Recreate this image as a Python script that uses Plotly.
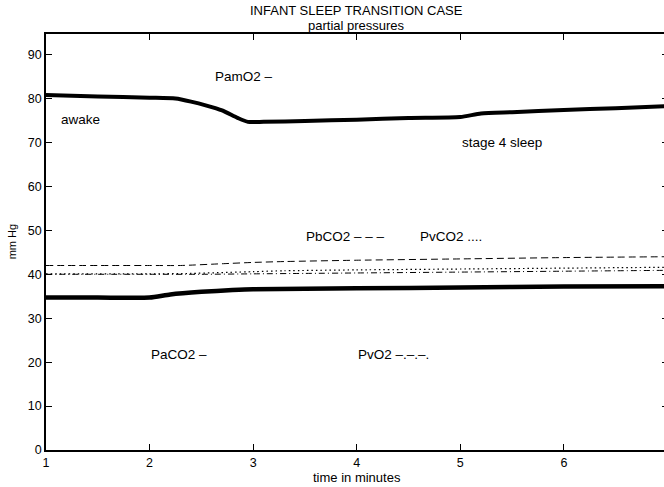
import plotly.graph_objects as go

# ---- data: partial pressures (mm Hg) against time (minutes) ----
pamo2_t = [1.0, 1.5, 2.0, 2.25, 2.4, 2.55, 2.7, 2.85, 2.95, 3.1, 3.5, 4.0, 4.5, 5.0, 5.2, 5.5, 6.0, 6.5, 7.0]
pamo2_v = [80.8, 80.5, 80.2, 80.0, 79.3, 78.4, 77.3, 75.6, 74.7, 74.7, 74.9, 75.2, 75.6, 75.8, 76.6, 76.9, 77.4, 77.8, 78.3]

paco2_t = [1.0, 1.5, 2.0, 2.2, 2.5, 2.8, 3.0, 3.5, 4.0, 5.0, 6.0, 7.0]
paco2_v = [34.7, 34.7, 34.7, 35.4, 36.0, 36.4, 36.6, 36.7, 36.8, 37.0, 37.2, 37.3]

pbco2_t = [1.0, 2.0, 2.3, 2.7, 3.0, 3.3, 4.0, 5.0, 6.0, 7.0]
pbco2_v = [42.0, 42.0, 42.0, 42.4, 42.7, 42.9, 43.2, 43.5, 43.8, 44.0]

pvco2_t = [1.0, 2.0, 2.4, 3.0, 3.3, 4.0, 5.0, 6.0, 7.0]
pvco2_v = [40.1, 40.1, 40.2, 40.6, 40.8, 41.0, 41.2, 41.4, 41.6]

pvo2_t = [1.0, 2.0, 2.5, 3.0, 3.5, 4.0, 5.0, 6.0, 7.0]
pvo2_v = [40.0, 40.0, 40.0, 40.1, 40.2, 40.3, 40.5, 40.7, 40.9]

x_ticks = [1, 2, 3, 4, 5, 6]
y_ticks = [0, 10, 20, 30, 40, 50, 60, 70, 80, 90]

# text labels placed in data coordinates: (x, y, text)
labels = [
    (1.13, 75.2, "awake"),
    (2.61, 85.0, "PamO2 –"),
    (5.00, 70.0, "stage 4 sleep"),
    (3.49, 48.7, "PbCO2 – – –"),
    (4.59, 48.7, "PvCO2 ...."),
    (1.99, 21.7, "PaCO2 –"),
    (3.99, 21.7, "PvO2 –.–.–."),
]

FONT = "Liberation Sans, Arial, Helvetica, sans-serif"
TXT = 13.5

fig = go.Figure()

fig.add_trace(go.Scatter(x=pamo2_t, y=pamo2_v, mode="lines", line=dict(color="black", width=4, shape="spline", smoothing=0.6)))
fig.add_trace(go.Scatter(x=paco2_t, y=paco2_v, mode="lines", line=dict(color="black", width=4.5, shape="spline", smoothing=0.6)))
fig.add_trace(go.Scatter(x=pbco2_t, y=pbco2_v, mode="lines", line=dict(color="black", width=1, dash="7px,4px", shape="spline", smoothing=0.6)))
fig.add_trace(go.Scatter(x=pvco2_t, y=pvco2_v, mode="lines", line=dict(color="black", width=1.2, dash="1.5px,3px", shape="spline", smoothing=0.6)))
fig.add_trace(go.Scatter(x=pvo2_t, y=pvo2_v, mode="lines", line=dict(color="black", width=1, dash="6px,3px,1px,3px", shape="spline", smoothing=0.6)))
# carrier for the right-hand tick stubs
fig.add_trace(go.Scatter(x=[], y=[], yaxis="y2", mode="lines", hoverinfo="skip"))

for x, y, t in labels:
    fig.add_annotation(x=x, y=y, xref="x", yref="y", text=t, showarrow=False,
                       xanchor="left", yanchor="middle", font=dict(size=TXT, color="black", family=FONT))

# titles and axis labels
fig.add_annotation(x=4.0, y=1.0560, xref="x", yref="paper", text="INFANT SLEEP TRANSITION CASE",
                   showarrow=False, xanchor="center", yanchor="middle", font=dict(size=13, color="black", family=FONT))
fig.add_annotation(x=4.0, y=1.0212, xref="x", yref="paper", text="partial pressures",
                   showarrow=False, xanchor="center", yanchor="middle", font=dict(size=13, color="black", family=FONT))
fig.add_annotation(x=4.0, y=-0.0670, xref="x", yref="paper", text="time in minutes",
                   showarrow=False, xanchor="center", yanchor="middle", font=dict(size=13, color="black", family=FONT))
fig.add_annotation(x=-0.0545, y=0.5, xref="paper", yref="paper", text="mm Hg", textangle=-90,
                   showarrow=False, xanchor="center", yanchor="middle", font=dict(size=11, color="black", family=FONT))

fig.update_layout(
    width=664, height=487,
    margin=dict(l=46, r=0, t=34, b=37),
    paper_bgcolor="white", plot_bgcolor="white",
    showlegend=False,
    font=dict(family=FONT, size=12.5, color="black"),
    xaxis=dict(range=[1, 6.967], tickvals=x_ticks, ticks="inside", ticklen=6, tickwidth=1,
               tickcolor="black", showline=True, linecolor="black", linewidth=1.5, mirror="ticks",
               showgrid=False, zeroline=False, tickfont=dict(size=12.5, family=FONT)),
    yaxis=dict(range=[0, 94.7], tickvals=y_ticks, ticks="inside", ticklen=6, tickwidth=1,
               tickcolor="black", showline=True, linecolor="black", linewidth=1.5,
               showgrid=False, zeroline=False, tickfont=dict(size=12.5, family=FONT)),
    yaxis2=dict(range=[0, 94.7], tickvals=y_ticks, overlaying="y", side="right", ticks="inside",
                ticklen=2, tickcolor="black", showline=False, showgrid=False, zeroline=False,
                showticklabels=False),
)

fig.write_html("out.html")
